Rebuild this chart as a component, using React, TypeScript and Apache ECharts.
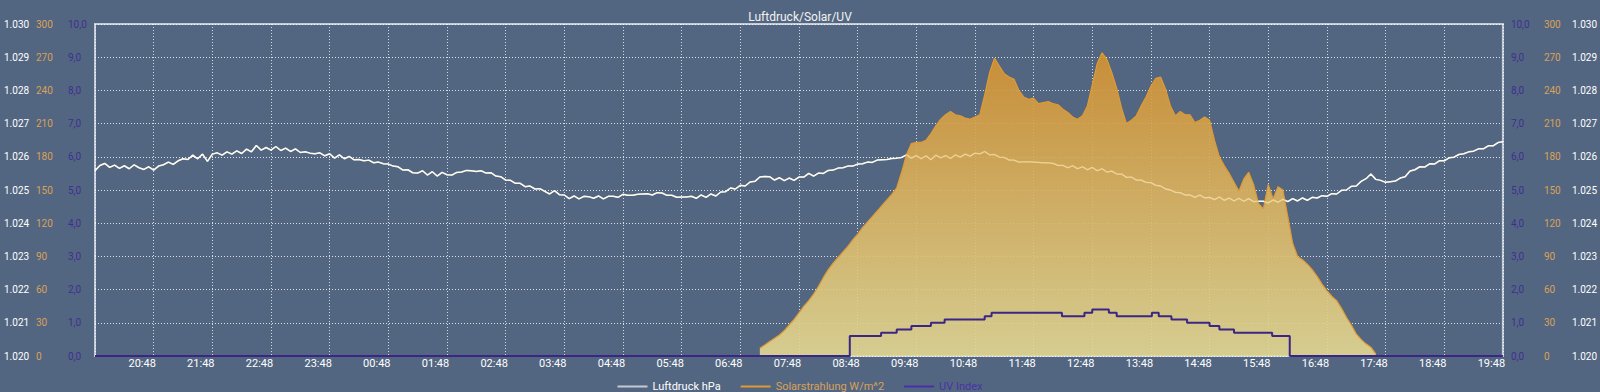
import React, { useEffect, useRef } from 'react';
import * as echarts from 'echarts';

const TITLE = 'Luftdruck/Solar/UV';
// clock time (minutes after midnight) at x = 0 of the time axis
const START_CLOCK_MIN = 19 * 60 + 48;
const AXIS_SPAN_MIN = 1440;
const STEP_MIN = 5;

// Luftdruck hPa, every 5 minutes from x = 0
const pressure = [
  1025.58, 1025.74, 1025.80, 1025.68, 1025.75, 1025.65, 1025.73, 1025.64, 1025.76, 1025.67, 1025.62, 1025.70,
  1025.60, 1025.72, 1025.76, 1025.84, 1025.77, 1025.88, 1025.94, 1025.92, 1026.05, 1025.94, 1026.08, 1025.86,
  1026.08, 1026.12, 1026.05, 1026.15, 1026.08, 1026.18, 1026.10, 1026.23, 1026.15, 1026.34, 1026.20, 1026.28,
  1026.20, 1026.31, 1026.19, 1026.26, 1026.16, 1026.24, 1026.13, 1026.15, 1026.11, 1026.09, 1026.12, 1026.03,
  1026.09, 1025.96, 1026.06, 1025.94, 1026.01, 1025.91, 1025.92, 1025.88, 1025.90, 1025.82, 1025.84, 1025.79,
  1025.78, 1025.72, 1025.70, 1025.60, 1025.61, 1025.52, 1025.51, 1025.58, 1025.45, 1025.55, 1025.42, 1025.53,
  1025.46, 1025.45, 1025.53, 1025.54, 1025.59, 1025.58, 1025.56, 1025.58, 1025.51, 1025.52, 1025.42, 1025.40,
  1025.30, 1025.29, 1025.20, 1025.20, 1025.10, 1025.12, 1025.03, 1025.04, 1024.96, 1024.88, 1024.98, 1024.86,
  1024.85, 1024.74, 1024.82, 1024.73, 1024.81, 1024.80, 1024.75, 1024.82, 1024.73, 1024.81, 1024.81, 1024.78,
  1024.87, 1024.84, 1024.84, 1024.87, 1024.88, 1024.89, 1024.85, 1024.92, 1024.91, 1024.84, 1024.84, 1024.78,
  1024.79, 1024.79, 1024.81, 1024.75, 1024.85, 1024.78, 1024.88, 1024.82, 1024.94, 1024.95, 1025.06, 1025.03,
  1025.14, 1025.12, 1025.24, 1025.26, 1025.39, 1025.41, 1025.40, 1025.30, 1025.37, 1025.28, 1025.36, 1025.29,
  1025.39, 1025.39, 1025.50, 1025.42, 1025.51, 1025.50, 1025.59, 1025.60, 1025.66, 1025.67, 1025.72, 1025.72,
  1025.78, 1025.79, 1025.84, 1025.83, 1025.90, 1025.91, 1025.92, 1025.95, 1025.96, 1025.98, 1026.06, 1025.96,
  1026.04, 1025.94, 1026.03, 1025.91, 1026.05, 1025.97, 1026.04, 1025.95, 1026.06, 1025.99, 1026.08, 1026.02,
  1026.11, 1026.09, 1026.16, 1026.06, 1026.07, 1025.99, 1025.98, 1025.90, 1025.90, 1025.84, 1025.85, 1025.85,
  1025.84, 1025.83, 1025.82, 1025.82, 1025.80, 1025.74, 1025.74, 1025.67, 1025.73, 1025.64, 1025.70, 1025.61,
  1025.68, 1025.58, 1025.64, 1025.54, 1025.57, 1025.48, 1025.48, 1025.38, 1025.39, 1025.30, 1025.30, 1025.23,
  1025.22, 1025.14, 1025.12, 1025.03, 1025.00, 1024.93, 1024.92, 1024.85, 1024.85, 1024.78, 1024.85, 1024.76,
  1024.78, 1024.71, 1024.79, 1024.69, 1024.76, 1024.67, 1024.75, 1024.66, 1024.74, 1024.65, 1024.66, 1024.66,
  1024.61, 1024.70, 1024.63, 1024.72, 1024.65, 1024.74, 1024.67, 1024.76, 1024.69, 1024.78, 1024.76, 1024.83,
  1024.81, 1024.89, 1024.88, 1024.99, 1025.00, 1025.11, 1025.12, 1025.26, 1025.34, 1025.48, 1025.32, 1025.29,
  1025.23, 1025.25, 1025.27, 1025.36, 1025.40, 1025.57, 1025.61, 1025.70, 1025.69, 1025.79, 1025.78, 1025.88,
  1025.88, 1025.97, 1025.99, 1026.07, 1026.09, 1026.15, 1026.17, 1026.24, 1026.24, 1026.33, 1026.33, 1026.43,
  1026.45,
];

// Solarstrahlung W/m^2, every 5 minutes from SOLAR_START_MIN
const SOLAR_START_MIN = 680;
const solar = [
  7, 10, 13, 16, 19, 23, 28, 33, 39, 45, 50, 56,
  63, 71, 78, 84, 89, 94, 99, 105, 110, 116, 121, 126,
  131, 136, 141, 146, 152, 166, 182, 192, 193, 193, 195, 201,
  208, 214, 218, 221, 218, 217, 215, 214, 216, 218, 236, 256,
  269, 262, 255, 252, 250, 240, 234, 232, 233, 228, 229, 230,
  228, 227, 223, 220, 216, 214, 217, 226, 245, 264, 274, 268,
  256, 242, 224, 210, 213, 217, 226, 234, 244, 251, 252, 241,
  226, 217, 221, 218, 218, 211, 213, 216, 213, 195, 180, 172,
  165, 157, 149, 160, 166, 155, 138, 133, 155, 142, 153, 150,
  126, 102, 90, 87, 83, 78, 72, 65, 59, 54, 50, 43,
  35, 28, 20, 15, 11, 8, 2,
];

// UV Index, value holds from each time until the next one
const uvTimes = [0, 772, 804, 820, 835, 855, 869, 910, 917, 989, 1012, 1020, 1037, 1045, 1081, 1088, 1101, 1117, 1140, 1150, 1165, 1204, 1222, 1440];
const uvValues = [0, 0.6, 0.7, 0.8, 0.9, 1.0, 1.1, 1.2, 1.3, 1.2, 1.3, 1.4, 1.3, 1.2, 1.3, 1.2, 1.1, 1.0, 0.9, 0.8, 0.7, 0.6, 0, 0];

const seriesNames = ['Luftdruck hPa', 'Solarstrahlung W/m^2', 'UV Index'];

const BG = '#536681';
const FONT = 'Roboto, "Liberation Sans", Arial, sans-serif';
const C_PRESS = '#ffffff';
const C_PRESS_LEGEND = '#c6c9cf';
const C_SOLAR = '#df9a32';
const C_SOLAR_TEXT = '#d9a158';
const C_UV = '#3b2585';
const C_UV_TEXT = '#3f2f90';

const pad2 = (n: number) => (n < 10 ? '0' + n : '' + n);
const clock = (v: number) => {
  if (v === 0) return '';
  const m = (START_CLOCK_MIN + v) % 1440;
  return pad2(Math.floor(m / 60)) + ':' + pad2(m % 60);
};
const fmtPressure = (v: number) => {
  const r = Math.round(v);
  return Math.floor(r / 1000) + '.' + String(r % 1000).padStart(3, '0');
};
const fmtUV = (v: number) => v.toFixed(1).replace('.', ',');

function yAxis(
  kind: 'p' | 's' | 'u',
  position: 'left' | 'right',
  margin: number,
  split: boolean
) {
  const cfg =
    kind === 'p'
      ? { min: 1020, max: 1030, interval: 1, color: C_PRESS, formatter: fmtPressure }
      : kind === 's'
      ? { min: 0, max: 300, interval: 30, color: C_SOLAR_TEXT, formatter: (v: number) => String(v) }
      : { min: 0, max: 10, interval: 1, color: C_UV_TEXT, formatter: fmtUV };
  return {
    type: 'value',
    position,
    min: cfg.min,
    max: cfg.max,
    interval: cfg.interval,
    axisLine: { show: false },
    axisTick: { show: false },
    axisLabel: {
      color: cfg.color,
      fontSize: 10,
      fontFamily: FONT,
      margin,
      align: 'left',
      formatter: cfg.formatter,
    },
    splitLine: {
      show: split,
      lineStyle: { color: 'rgba(255,255,255,0.8)', width: 1, type: [1, 2] },
    },
  };
}

export default function App() {
  const ref = useRef<HTMLDivElement>(null);
  useEffect(() => {
    if (!ref.current) return;
    const chart = echarts.init(ref.current, undefined, { renderer: 'svg' });
    const pressureData = pressure.map((p, i) => [i * STEP_MIN, p]);
    const solarData = solar.map((s, i) => [SOLAR_START_MIN + i * STEP_MIN, s]);
    const uvData = uvTimes.map((t, i) => [t, uvValues[i]]);
    chart.setOption({
      animation: false,
      backgroundColor: BG,
      textStyle: { fontFamily: FONT },
      title: {
        text: TITLE,
        left: 'center',
        top: 6,
        textStyle: { color: '#f2f2f2', fontSize: 12, fontWeight: 'normal', fontFamily: FONT },
      },
      legend: {
        left: 'center',
        top: 376,
        icon: 'rect',
        itemWidth: 30,
        itemHeight: 2,
        itemGap: 20,
        textStyle: { fontSize: 11, fontFamily: FONT },
        data: [
          { name: seriesNames[0], itemStyle: { color: C_PRESS_LEGEND }, textStyle: { color: '#ffffff' } },
          { name: seriesNames[1], itemStyle: { color: C_SOLAR }, textStyle: { color: C_SOLAR_TEXT } },
          { name: seriesNames[2], itemStyle: { color: '#4a2fa8' }, textStyle: { color: '#4a33a6' } },
        ],
      },
      grid: {
        left: 95,
        right: 96,
        top: 24,
        bottom: 36,
        show: true,
        borderColor: '#c3ccd8',
        borderWidth: 2,
        backgroundColor: 'transparent',
      },
      xAxis: {
        type: 'value',
        min: 0,
        max: AXIS_SPAN_MIN,
        interval: 60,
        axisLine: { show: false },
        axisTick: { show: false },
        axisLabel: {
          color: '#ffffff',
          fontSize: 11,
          fontFamily: FONT,
          margin: 2,
          padding: [0, 23, 0, 0],
          formatter: clock,
        },
        splitLine: {
          show: true,
          lineStyle: { color: 'rgba(255,255,255,0.75)', width: 1, type: [1, 2] },
        },
      },
      yAxis: [
        yAxis('p', 'left', 91, true),
        yAxis('s', 'left', 59, false),
        yAxis('u', 'left', 27, false),
        yAxis('u', 'right', 8, false),
        yAxis('s', 'right', 41, false),
        yAxis('p', 'right', 69, false),
      ],
      series: [
        {
          name: seriesNames[0],
          type: 'line',
          yAxisIndex: 0,
          data: pressureData,
          symbol: 'none',
          z: 2,
          itemStyle: { color: C_PRESS_LEGEND },
          lineStyle: { color: C_PRESS, width: 1.5 },
        },
        {
          name: seriesNames[1],
          type: 'line',
          yAxisIndex: 1,
          data: solarData,
          symbol: 'none',
          z: 3,
          itemStyle: { color: C_SOLAR },
          lineStyle: { color: C_SOLAR, width: 1.2 },
          areaStyle: {
            opacity: 1,
            color: new echarts.graphic.LinearGradient(0, 0, 0, 1, [
              { offset: 0, color: 'rgba(212,146,48,0.9)' },
              { offset: 1, color: 'rgba(228,216,146,0.9)' },
            ]),
          },
        },
        {
          // the pressure line seen through the translucent solar area
          name: 'pressure-overlay',
          type: 'line',
          yAxisIndex: 0,
          data: pressureData,
          symbol: 'none',
          silent: true,
          z: 3.5,
          lineStyle: { color: 'rgba(255,246,215,0.45)', width: 1.3 },
        },
        {
          name: seriesNames[2],
          type: 'line',
          yAxisIndex: 2,
          data: uvData,
          step: 'end',
          symbol: 'none',
          z: 4,
          itemStyle: { color: C_UV },
          lineStyle: { color: C_UV, width: 2 },
        },
      ],
    });
    return () => chart.dispose();
  }, []);
  return (
    <div
      ref={ref}
      style={{ position: 'fixed', left: 0, top: 0, width: 1600, height: 392, background: BG }}
    />
  );
}
